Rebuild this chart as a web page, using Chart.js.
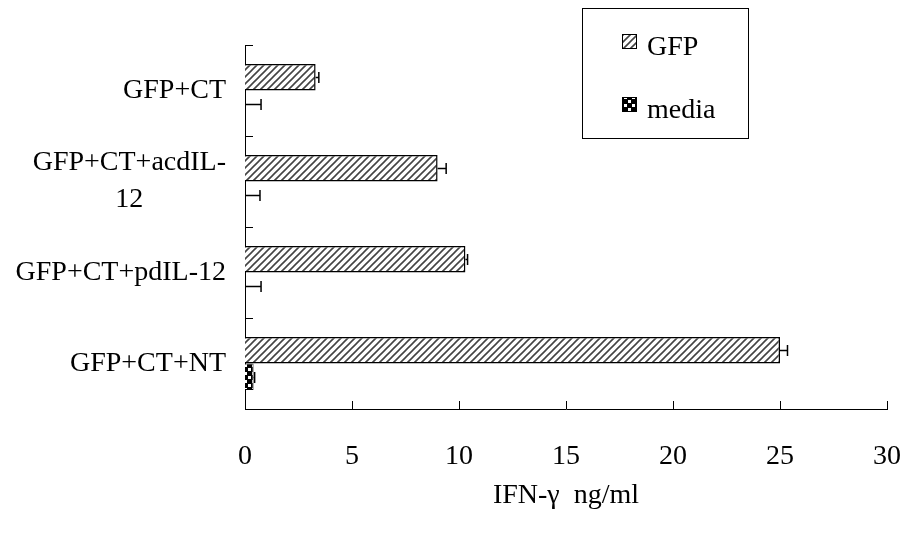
<!DOCTYPE html>
<html>
<head>
<meta charset="utf-8">
<script src="https://cdn.jsdelivr.net/npm/chart.js@4.4.1/dist/chart.umd.min.js"></script>
<style>
  html, body { margin: 0; padding: 0; background: #fff; }
  #wrap { width: 904px; height: 534px; }
</style>
</head>
<body>
<div id="wrap"><canvas id="myChart" width="904" height="534"></canvas></div>
<script>
// Groups, top to bottom
const groups = [['GFP+CT'], ['GFP+CT+acdIL-', '12'], ['GFP+CT+pdIL-12'], ['GFP+CT+NT']];
// IFN-gamma (ng/ml) per stimulus
const gfpValues = [3.3, 9.0, 10.3, 25.0];
const gfpErrors = [0.15, 0.4, 0.1, 0.35];
const mediaValues = [0, 0, 0, 0.4];
const mediaErrors = [0.75, 0.7, 0.75, 0.05];
const xTicks = [0, 5, 10, 15, 20, 25, 30];

const FONT = 'Liberation Serif';
const FS = 28;

function makePattern(kind) {
    const c = document.createElement('canvas');
    const g = c.getContext('2d');
    if (kind === 'hatch') {
        c.width = 7; c.height = 7;
        g.fillStyle = '#fff';
        g.fillRect(0, 0, 7, 7);
        g.strokeStyle = '#444';
        g.lineWidth = 1.6;
        g.beginPath();
        g.moveTo(-1, 8); g.lineTo(8, -1);
        g.moveTo(-4.5, 4.5); g.lineTo(4.5, -4.5);
        g.moveTo(2.5, 11.5); g.lineTo(11.5, 2.5);
        g.stroke();
    } else {
        c.width = 8; c.height = 8;
        g.fillStyle = '#000';
        g.fillRect(0, 0, 8, 8);
        g.fillStyle = '#fff';
        g.fillRect(0, 0, 3, 3);
        g.fillRect(4, 4, 3, 3);
    }
    return g.createPattern(c, 'repeat');
}

const hatchFill = makePattern('hatch');
const mediaFill = makePattern('check');

// error bars: line from bar end to value + err, with a cap
const errorBars = {
    id: 'errorBars',
    afterDatasetsDraw(chart) {
        const ctx = chart.ctx;
        const xs = chart.scales.x;
        const errs = [gfpErrors, mediaErrors];
        ctx.save();
        ctx.strokeStyle = '#000';
        ctx.lineWidth = 1.5;
        chart.data.datasets.forEach((ds, d) => {
            chart.getDatasetMeta(d).data.forEach((bar, i) => {
                const x0 = xs.getPixelForValue(ds.data[i]);
                const x1 = xs.getPixelForValue(ds.data[i] + errs[d][i]);
                const y = Math.round(bar.y) + 0.5;
                ctx.beginPath();
                ctx.moveTo(x0, y);
                ctx.lineTo(x1, y);
                ctx.moveTo(x1, y - 5.5);
                ctx.lineTo(x1, y + 5.5);
                ctx.stroke();
            });
        });
        ctx.restore();
    }
};

// inward tick marks, category labels and legend box
const decorations = {
    id: 'decorations',
    afterDraw(chart) {
        const ctx = chart.ctx;
        const xs = chart.scales.x;
        const ys = chart.scales.y;
        const area = chart.chartArea;
        ctx.save();
        ctx.strokeStyle = '#000';
        ctx.lineWidth = 1;
        ctx.beginPath();
        const band = (area.bottom - area.top) / groups.length;
        for (let i = 0; i < groups.length; i++) {
            const y = Math.round(area.top + i * band) + 0.5;
            ctx.moveTo(area.left, y);
            ctx.lineTo(area.left + 8, y);
        }
        xTicks.forEach(v => {
            if (v === 0) return;
            const x = Math.round(xs.getPixelForValue(v)) + 0.5;
            ctx.moveTo(x, area.bottom);
            ctx.lineTo(x, area.bottom - 8);
        });
        ctx.stroke();

        ctx.fillStyle = '#000';
        ctx.font = FS + 'px "' + FONT + '"';
        ctx.textBaseline = 'middle';
        ctx.textAlign = 'center';
        const lh = 37;
        groups.forEach((lines, i) => {
            const yc = ys.getPixelForValue(i);
            const w = Math.max(...lines.map(s => ctx.measureText(s).width));
            const cx = 226 - w / 2;
            lines.forEach((s, k) => {
                ctx.fillText(s, cx, yc + (k - (lines.length - 1) / 2) * lh);
            });
        });

        // legend
        ctx.lineWidth = 1;
        ctx.strokeRect(582.5, 8.5, 166, 130);
        ctx.textAlign = 'left';
        ctx.textBaseline = 'alphabetic';
        const items = [[hatchFill, chart.data.datasets[0].label, 34, 55], [mediaFill, chart.data.datasets[1].label, 97, 118]];
        items.forEach(([fill, label, y, base]) => {
            ctx.fillStyle = fill;
            ctx.fillRect(622, y, 15, 15);
            ctx.strokeRect(622.5, y + 0.5, 14, 14);
            ctx.fillStyle = '#000';
            ctx.fillText(label, 647, base);
        });
        ctx.restore();
    }
};

const ctx = document.getElementById('myChart');
new Chart(ctx, {
    type: 'bar',
    data: {
        labels: groups.map(g => g.join('')),
        datasets: [{
            label: 'GFP',
            data: gfpValues,
            backgroundColor: hatchFill,
            borderColor: '#000',
            borderWidth: 1.5,
            categoryPercentage: 0.58,
            barPercentage: 1.0
        }, {
            label: 'media',
            data: mediaValues,
            backgroundColor: mediaFill,
            borderColor: '#000',
            borderWidth: 1,
            categoryPercentage: 0.58,
            barPercentage: 1.0
        }]
    },
    options: {
        indexAxis: 'y',
        responsive: false,
        animation: false,
        layout: { padding: { top: 45, right: 17, left: 0, bottom: 0 } },
        scales: {
            x: {
                min: 0,
                max: 30,
                afterBuildTicks: s => { s.ticks = xTicks.map(v => ({ value: v })); },
                afterFit: s => { s.height = 125; s.paddingLeft = 0; s.paddingRight = 0; },
                grid: { display: false, drawTicks: false },
                border: { display: true, color: '#000', width: 1 },
                ticks: { color: '#000', padding: 31, font: { family: FONT, size: FS } },
                title: {
                    display: true,
                    text: 'IFN-γ  ng/ml',
                    color: '#000',
                    font: { family: FONT, size: FS },
                    padding: { top: 0, bottom: 22 }
                }
            },
            y: {
                afterFit: s => { s.width = 245; s.paddingTop = 0; s.paddingBottom = 0; },
                grid: { display: false, drawTicks: false },
                border: { display: true, color: '#000', width: 1 },
                ticks: { display: false }
            }
        },
        plugins: {
            legend: { display: false },
            tooltip: { enabled: false }
        }
    },
    plugins: [errorBars, decorations]
});
</script>
</body>
</html>
